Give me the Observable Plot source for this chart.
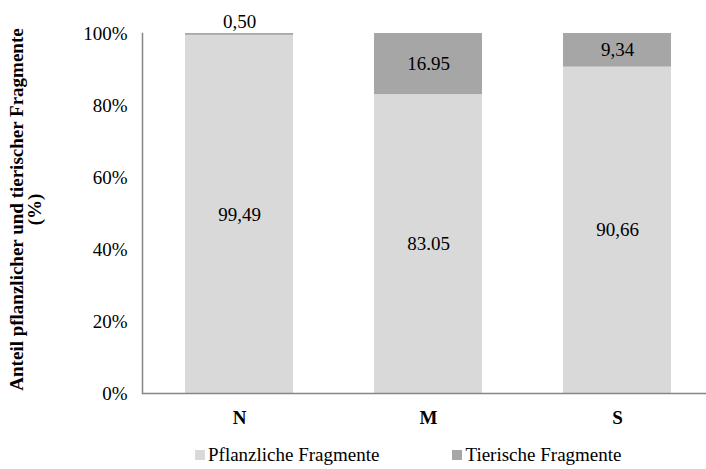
<!DOCTYPE html>
<html>
<head>
<meta charset="utf-8">
<script src="https://cdn.jsdelivr.net/npm/d3@7"></script>
<script src="https://cdn.jsdelivr.net/npm/@observablehq/plot@0.6"></script>
<style>
  body { margin: 0; background: #fff; font-family: 'Liberation Serif', serif; overflow: hidden; }
  #chart svg, #chart svg text { font-family: 'Liberation Serif', serif !important; }
  #legend { display: flex; justify-content: flex-start; gap: 73px; font-size: 19px; line-height: 22px; color: #000; margin-top: 4px; padding-left: 195px; font-family: 'Liberation Serif', serif; }
  #legend span.sw { display: inline-block; width: 10px; height: 10px; margin-right: 3px; vertical-align: 1px; }
</style>
</head>
<body>
<div id="chart"></div>
<div id="legend"></div>
<script>
const categories = ["N", "M", "S"];
const series = ["Pflanzliche Fragmente", "Tierische Fragmente"];
const pflanzlich = [99.49, 83.05, 90.66];
const tierisch = [0.50, 16.95, 9.34];
const pflanzlichLabels = ["99,49", "83.05", "90,66"];
const tierischLabels = ["0,50", "16.95", "9,34"];
const yTicks = [0, 20, 40, 60, 80, 100];
const colors = ["#d9d9d9", "#a6a6a6"];

const rows = [];
categories.forEach((c, i) => {
  rows.push({cat: c, series: series[0], value: pflanzlich[i]});
  rows.push({cat: c, series: series[1], value: tierisch[i]});
});

const plantLabels = categories.map((c, i) => ({cat: c, y: pflanzlich[i] / 2, label: pflanzlichLabels[i]}));
const animalInside = categories.map((c, i) => ({cat: c, y: pflanzlich[i] + tierisch[i] / 2, label: tierischLabels[i], small: tierisch[i] < 3}))
  .filter(d => !d.small);
const animalAbove = categories.map((c, i) => ({cat: c, y: pflanzlich[i] + tierisch[i], label: tierischLabels[i], small: tierisch[i] < 3}))
  .filter(d => d.small);

const serif = "'Liberation Serif', serif";

const chart = Plot.plot({
  width: 706,
  height: 440,
  marginLeft: 142,
  marginRight: -8,
  marginTop: 33,
  marginBottom: 47,
  style: {fontFamily: serif, fontSize: "19px", color: "#000", background: "#fff"},
  x: {domain: categories, paddingInner: 0.43, paddingOuter: 0.221, label: null, tickSize: 0},
  y: {domain: [0, 100], ticks: yTicks, label: null, tickSize: 0},
  color: {domain: series, range: colors},
  marks: [
    Plot.barY(rows, Plot.stackY({x: "cat", y: "value", fill: "series", order: series})),
    Plot.frame({anchor: "left", stroke: "#868686", strokeWidth: 1.5}),
    Plot.ruleY([0], {stroke: "#868686", strokeWidth: 1.5}),
    Plot.axisY({ticks: yTicks, tickFormat: d => d + "%", tickSize: 0, tickPadding: 15, fontSize: 19, fontFamily: serif, label: null}),
    Plot.axisX({tickSize: 0, tickPadding: 17, fontSize: 19, fontWeight: "bold", fontFamily: serif, label: null}),
    Plot.text(plantLabels, {x: "cat", y: "y", text: "label", fontSize: 19, fontFamily: serif}),
    Plot.text(animalInside, {x: "cat", y: "y", text: "label", fontSize: 19, fontFamily: serif}),
    Plot.text(animalAbove, {x: "cat", y: "y", text: "label", fontSize: 19, fontFamily: serif, dy: -12}),
    Plot.text(["Anteil pflanzlicher und tierischer Fragmente\n(%)"], {
      frameAnchor: "left", textAnchor: "middle", dx: -116, dy: -4, rotate: -90, fontSize: 19, fontWeight: "bold", fontFamily: serif, lineHeight: 0.95,
      letterSpacing: 0.4
    })
  ]
});
document.getElementById("chart").appendChild(chart);

const legend = document.getElementById("legend");
series.forEach((s, i) => {
  const item = document.createElement("div");
  item.innerHTML = `<span class="sw" style="background:${colors[i]}"></span>${s}`;
  legend.appendChild(item);
});
</script>
</body>
</html>
